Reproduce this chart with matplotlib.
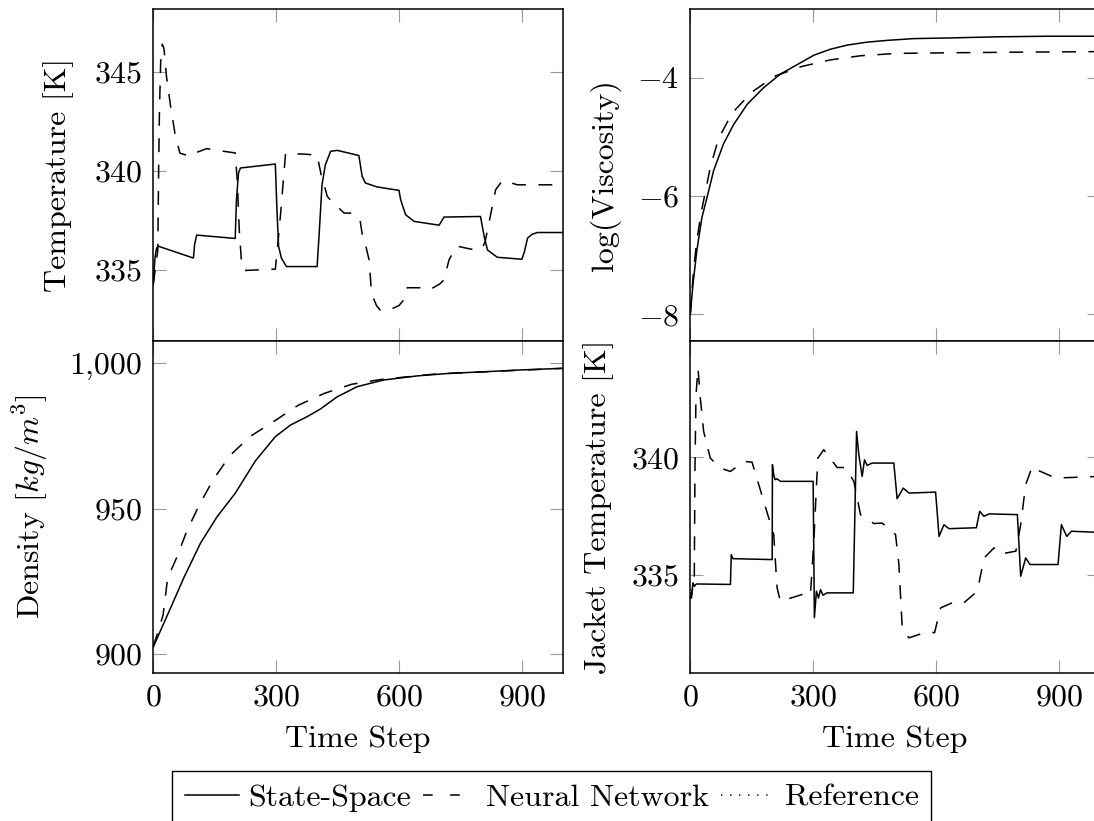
import matplotlib
matplotlib.use("Agg")
import matplotlib.pyplot as plt
from matplotlib.lines import Line2D
from matplotlib.ticker import FuncFormatter

# ---- data ----
# reactor temperature [K]
temp_ss_t = [0, 4, 8, 12, 98, 101, 106, 200, 203, 208, 213, 298, 302, 306, 313, 325, 400,
             405, 412, 420, 433, 449, 502, 510, 518, 547, 600, 604, 616, 637, 698, 705,
             710, 799, 808, 816, 840, 900, 906, 914, 925, 938, 1000]
temp_ss = [334.3, 335.6, 336.1, 336.2, 335.6, 336.3, 336.76, 336.59, 338.5, 339.9, 340.15,
           340.35, 338.0, 336.18, 335.59, 335.17, 335.17, 336.8, 339.3, 340.3, 340.99, 341.04,
           340.78, 339.73, 339.39, 339.19, 339.02, 338.55, 337.79, 337.45, 337.26, 337.5,
           337.67, 337.7, 336.69, 336.01, 335.64, 335.54, 335.9, 336.61, 336.8, 336.89, 336.89]

temp_nn_t = [0, 11, 13, 15, 18, 22, 26, 32, 42, 54, 65, 90, 98, 131, 156, 200, 205, 210,
             215, 221, 298, 305, 311, 319, 323, 368, 400, 410, 425, 434, 466, 487, 505, 511,
             519, 527, 533, 545, 555, 573, 600, 612, 620, 653, 675, 700, 710, 722, 730, 742,
             787, 803, 810, 816, 836, 852, 873, 889, 963, 1000]
temp_nn = [334.3, 336.0, 340.0, 343.0, 345.5, 346.4, 346.2, 344.8, 343.3, 341.75, 340.9,
           340.74, 340.88, 341.13, 341.04, 340.91, 339.5, 337.0, 335.5, 334.97, 335.04, 336.5,
           337.87, 339.9, 340.88, 340.85, 340.8, 339.8, 338.71, 338.5, 337.87, 337.87, 337.5,
           336.7, 336.2, 335.5, 333.8, 333.2, 332.95, 332.95, 333.2, 333.5, 334.1, 334.1,
           334.0, 334.3, 334.5, 335.5, 335.8, 336.2, 336.0, 336.1, 336.4, 337.0, 339.05,
           339.5, 339.4, 339.3, 339.3, 339.3]

# log viscosity
visc_ss_t = [0, 6.5, 16, 28.5, 41, 57, 81, 106, 139, 179, 220, 261, 302, 342, 383, 432, 481,
             546, 628, 750, 872, 1000]
visc_ss = [-8.0, -7.49, -6.92, -6.36, -6.02, -5.57, -5.12, -4.79, -4.45, -4.17, -3.94, -3.78,
           -3.62, -3.52, -3.45, -3.40, -3.37, -3.34, -3.33, -3.31, -3.30, -3.30]

visc_nn_t = [0, 8, 16, 26, 49, 69, 102, 151, 208, 273, 342, 416, 505, 628, 790, 1000]
visc_nn = [-8.0, -7.25, -6.75, -6.30, -5.51, -5.03, -4.60, -4.24, -3.97, -3.81, -3.70, -3.63,
           -3.59, -3.58, -3.57, -3.56]

# density [kg/m^3]
dens_ss_t = [0, 42, 74, 115, 156, 200, 249, 298, 335, 376, 408, 449, 498, 563, 645, 726, 807,
             889, 1000]
dens_ss = [902.5, 915.8, 926.1, 938.1, 947.3, 955.3, 966.4, 974.8, 978.8, 981.7, 984.3, 988.5,
           992.0, 994.3, 995.7, 996.6, 997.1, 997.7, 998.3]

dens_nn_t = [0, 24, 35, 58, 82, 113, 146, 187, 237, 296, 354, 418, 484, 557, 685, 807, 1000]
dens_nn = [902.5, 913.5, 926.1, 933.5, 942.4, 951.5, 959.9, 968.3, 974.9, 980.2, 985.6, 989.7,
           992.8, 994.5, 996.3, 997.1, 998.3]

# jacket temperature [K]
jack_ss_t = [0, 2.4, 6.5, 9.8, 14.7, 98, 100, 104, 200, 200.5, 203.7, 207, 212, 220, 300,
             303, 308, 313, 318, 324, 334, 398, 406, 411.6, 419.7, 425.4, 432, 444, 497, 505,
             520, 534, 599, 607.5, 619.4, 631.6, 698.5, 706.7, 717, 729.4, 798.7, 806.8, 819,
             829.6, 898, 906.2, 919.3, 930.7, 1000]
jack_ss = [334.2, 334.0, 334.65, 334.5, 334.6, 334.58, 335.85, 335.68, 335.64, 339.69, 339.26,
           339.05, 339.09, 338.98, 338.98, 333.16, 334.29, 334.0, 334.36, 334.12, 334.22,
           334.22, 341.11, 340.11, 339.19, 339.9, 339.66, 339.76, 339.76, 338.24, 338.69,
           338.48, 338.52, 336.63, 337.13, 336.96, 337.0, 337.7, 337.49, 337.59, 337.56,
           334.93, 335.71, 335.43, 335.43, 337.13, 336.63, 336.85, 336.8]

jack_nn_t = [0, 2.4, 9.8, 11.4, 13.9, 18.8, 24.5, 32.6, 48.9, 73.3, 97.8, 130.4, 150.7, 203.7,
             211.9, 220, 273, 293.4, 301.6, 311.4, 326, 358.6, 379, 399.3, 415.6, 448.2, 468.6,
             501.2, 509.4, 517.5, 533.8, 578.6, 596.5, 611.2, 648, 668.3, 701, 717.3, 741.7,
             758, 795, 806.8, 819, 835.3, 851.6, 892.3, 1000]
jack_nn = [334.2, 334.0, 335.0, 339.55, 342.67, 343.81, 342.53, 341.11, 339.97, 339.55, 339.4,
           339.83, 339.8, 336.71, 334.44, 333.86, 334.15, 334.12, 336.42, 339.97, 340.33,
           339.57, 339.57, 338.98, 337.56, 337.18, 337.2, 336.71, 335.43, 332.73, 332.3,
           332.56, 332.52, 333.58, 333.86, 333.8, 334.29, 335.71, 336.14, 335.88, 336.0,
           337.13, 338.84, 339.62, 339.43, 339.12, 339.19]

x_ticks = [0, 300, 600, 900]
series_names = ["State-Space", "Neural Network", "Reference"]

# ---- style ----
plt.rcParams["font.family"] = "serif"
plt.rcParams["font.serif"] = ["cmr10"]
plt.rcParams["mathtext.fontset"] = "cm"
plt.rcParams["axes.formatter.use_mathtext"] = True
plt.rcParams["font.size"] = 23
plt.rcParams["lines.scale_dashes"] = False

W, H = 1094, 821
DASH = (0, (10, 9))


def make_axes(fig, left_px, top_px, w_px=409.5, h_px=332):
    return fig.add_axes([left_px / W, 1 - (top_px + h_px) / H, w_px / W, h_px / H])


def style_axes(ax, ylim, yticks, show_x):
    ax.set_xlim(0, 1000)
    ax.set_ylim(*ylim)
    ax.set_xticks(x_ticks)
    ax.set_yticks(yticks)
    ax.tick_params(direction="in", top=True, right=True, length=9.5, width=0.8,
                   color="0.6", labelcolor="black", pad=8)
    for s in ax.spines.values():
        s.set_linewidth(1.1)
    if show_x:
        ax.set_xlabel("Time Step", labelpad=10)
    else:
        ax.tick_params(labelbottom=False)


def draw(ax, t_ss, y_ss, t_nn, y_nn):
    ax.plot(t_ss, y_ss, color="black", lw=1.1)
    ax.plot(t_nn, y_nn, color="black", lw=1.1, linestyle=DASH)


fig = plt.figure(figsize=(W / 100, H / 100), dpi=100)

ax_tl = make_axes(fig, 153.3, 9)
ax_tr = make_axes(fig, 690.3, 9)
ax_bl = make_axes(fig, 153.3, 341)
ax_br = make_axes(fig, 690.3, 341)

draw(ax_tl, temp_ss_t, temp_ss, temp_nn_t, temp_nn)
style_axes(ax_tl, (331.41, 348.18), [335, 340, 345], False)
ax_tl.set_ylabel("Temperature [K]", labelpad=14)

draw(ax_tr, visc_ss_t, visc_ss, visc_nn_t, visc_nn)
style_axes(ax_tr, (-8.45, -2.84), [-8, -6, -4], False)
ax_tr.set_ylabel("log(Viscosity)", labelpad=12)

draw(ax_bl, dens_ss_t, dens_ss, dens_nn_t, dens_nn)
style_axes(ax_bl, (893.5, 1007.7), [900, 950, 1000], True)
ax_bl.yaxis.set_major_formatter(FuncFormatter(lambda v, p: f"{v:,.0f}"))
ax_bl.set_ylabel(r"Density $[kg/m^3]$", labelpad=14)

draw(ax_br, jack_ss_t, jack_ss, jack_nn_t, jack_nn)
style_axes(ax_br, (330.8, 344.97), [335, 340], True)
ax_br.set_ylabel("Jacket Temperature [K]", labelpad=12)

handles = [
    Line2D([], [], color="black", lw=1.1),
    Line2D([], [], color="black", lw=1.1, linestyle=(0, (7, 12.5))),
    Line2D([], [], color="black", lw=1.1, linestyle=(0, (1, 5.5))),
]
leg = fig.legend(handles, series_names, loc="upper left",
                 bbox_to_anchor=(172 / W, 1 - 770.7 / H), ncol=3, frameon=True,
                 fancybox=False, edgecolor="black", framealpha=1, borderaxespad=0,
                 borderpad=0.4, handlelength=1.7, handletextpad=0.3, columnspacing=0.35)
leg.get_frame().set_linewidth(1.0)

fig.savefig("out.png", dpi=100)
